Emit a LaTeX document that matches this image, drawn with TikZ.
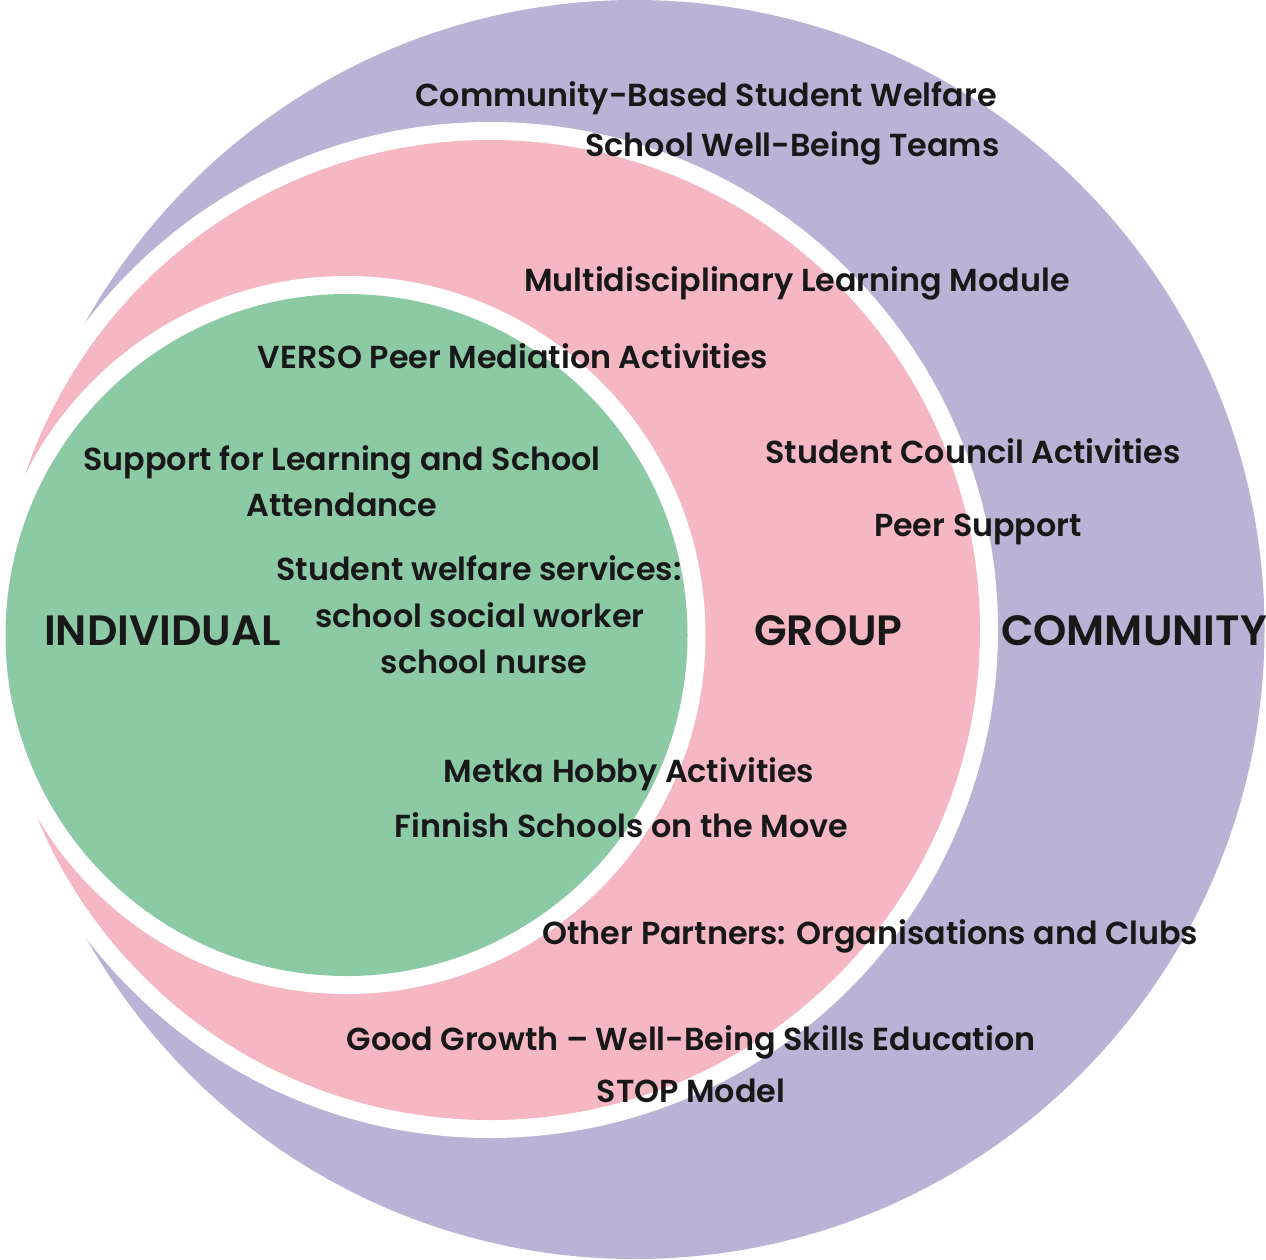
\documentclass[tikz,border=0pt]{standalone}
\usepackage{fontspec}
\newfontfamily\labfont{Poppins SemiBold}
\definecolor{purp}{RGB}{188,178,214}
\definecolor{pinkc}{RGB}{245,184,195}
\definecolor{greenc}{RGB}{140,201,165}
\definecolor{ink}{RGB}{24,24,24}
\tikzset{
  lab/.style={anchor=base,inner sep=0pt,text=ink,font=\labfont\fontsize{31.8}{36}\selectfont},
  big/.style={anchor=base,inner sep=0pt,text=ink,font=\labfont\fontsize{42.4}{48}\selectfont},
}
\begin{document}
\begin{tikzpicture}[x=1pt,y=-1pt]
\useasboundingbox (0,0) rectangle (1266,1259);
\fill[white] (0,0) rectangle (1266,1259);
% circles
\fill[purp] (635,629.5) circle[radius=629.5];
\fill[white] (490,630) circle[radius=508];
\fill[pinkc] (490,630) circle[radius=490];
\fill[white] (346.5,635) circle[radius=359];
\fill[greenc] (346.5,635) circle[radius=341];
% labels
\node[lab] (cbsw) at (706,106) {Community-Based Student Welfare};
\node[lab] (swbt) at (792.5,156) {School Well-Being Teams};
\node[lab] (mlm) at (797,291) {Multidisciplinary Learning Module};
\node[lab] (verso) at (513,368) {VERSO Peer Mediation Activities};
\node[lab] (sup1) at (342,470) {Support for Learning and School};
\node[lab] (sup2) at (342,516) {Attendance};
\node[lab] (sws1) at (479,580) {Student welfare services:};
\node[lab] (sws2) at (480,627) {school social worker};
\node[lab] (sws3) at (484,673) {school nurse};
\node[lab] (sca) at (973,463) {Student Council Activities};
\node[lab] (ps) at (978,536) {Peer Support};
\node[lab] (metka) at (629,782) {Metka Hobby Activities};
\node[lab] (fsm) at (621.5,837) {Finnish Schools on the Move};
\node[lab] (opc) at (870.5,944) {Other Partners: Organisations and Clubs};
\node[lab] (gg) at (691,1050) {Good Growth – Well-Being Skills Education};
\node[lab] (stop) at (691,1102) {STOP Model};
\node[big] (ind) at (162.5,645) {INDIVIDUAL};
\node[big] (grp) at (828.5,645) {GROUP};
\node[big] (com) at (1134,645) {COMMUNITY};
\end{tikzpicture}
\end{document}
